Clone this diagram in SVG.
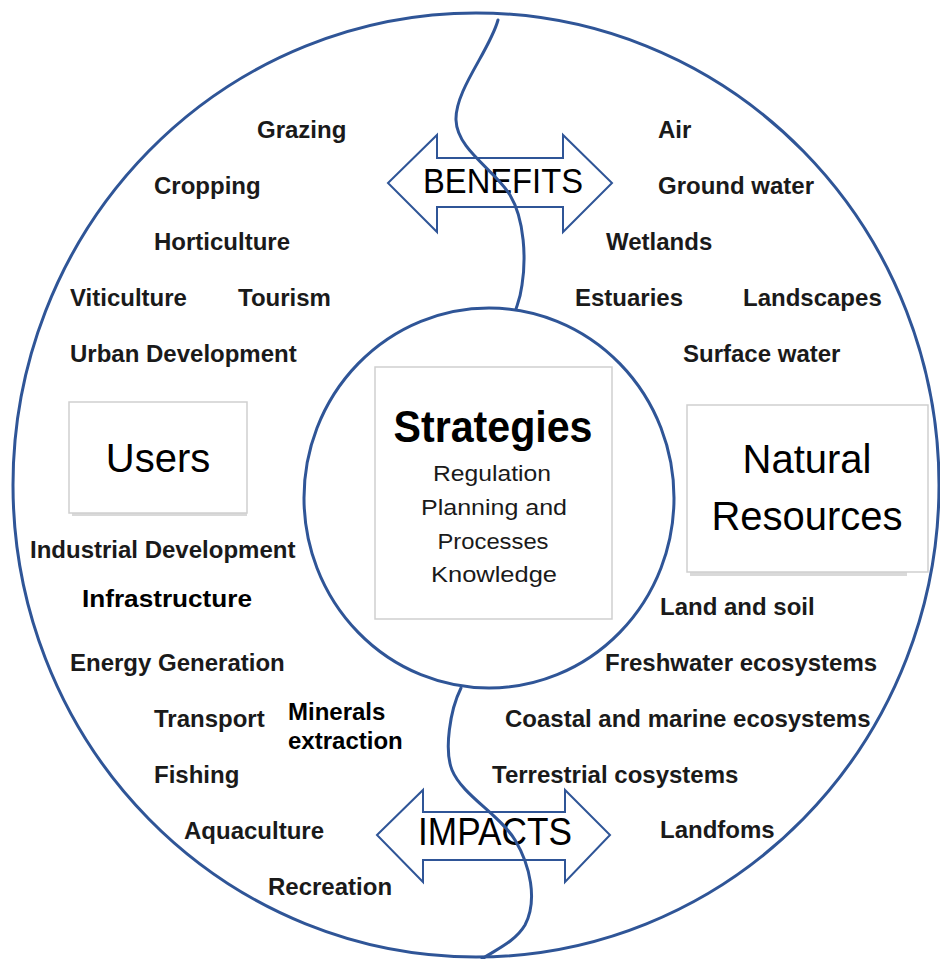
<svg xmlns="http://www.w3.org/2000/svg" width="940" height="959" viewBox="0 0 940 959">
<style>
.ring{fill:none;stroke:#2f5597;stroke-width:3}
.lbl{font-family:"Liberation Sans",Arial,sans-serif;font-size:24px;font-weight:bold;fill:#1a1a1a}
.alb{font-family:"Liberation Sans",Arial,sans-serif;font-size:24px;font-weight:bold;fill:#000}
.box{fill:#fff;stroke:#cfcfcf;stroke-width:1.5}
.shadow{fill:#d9d9d9}
.big{font-family:"Liberation Sans",Arial,sans-serif;font-size:40px;fill:#000;text-anchor:middle}
.sub{font-family:"Liberation Sans",Arial,sans-serif;font-size:22px;fill:#1a1a1a;text-anchor:middle}
.arrow{fill:#fff;stroke:#2f5597;stroke-width:2}
.atext{font-family:"Liberation Sans",Arial,sans-serif;fill:#000;text-anchor:middle}
.wave{fill:none;stroke:#2f5597;stroke-width:3;stroke-linecap:round}
</style>
<rect width="940" height="959" fill="#fff"/>
<ellipse class="ring" cx="476" cy="485" rx="463" ry="472"/>

<g id="labels">
<text class="lbl" x="257" y="138">Grazing</text>
<text class="lbl" x="154" y="194">Cropping</text>
<text class="lbl" x="154" y="250">Horticulture</text>
<text class="lbl" x="70" y="306">Viticulture</text>
<text class="lbl" x="238" y="306">Tourism</text>
<text class="lbl" x="70" y="362">Urban Development</text>
<text class="lbl" x="30" y="558">Industrial Development</text>
<text class="alb" x="82" y="607" textLength="170" lengthAdjust="spacingAndGlyphs">Infrastructure</text>
<text class="lbl" x="70" y="671">Energy Generation</text>
<text class="lbl" x="154" y="727">Transport</text>
<text class="alb" x="288" y="720">Minerals</text>
<text class="alb" x="288" y="749">extraction</text>
<text class="lbl" x="154" y="783">Fishing</text>
<text class="lbl" x="184" y="839">Aquaculture</text>
<text class="lbl" x="268" y="895">Recreation</text>
<text class="lbl" x="658" y="138">Air</text>
<text class="lbl" x="658" y="194">Ground water</text>
<text class="lbl" x="606" y="250">Wetlands</text>
<text class="lbl" x="575" y="306">Estuaries</text>
<text class="lbl" x="743" y="306">Landscapes</text>
<text class="lbl" x="683" y="362">Surface water</text>
<text class="lbl" x="660" y="615">Land and soil</text>
<text class="lbl" x="605" y="671">Freshwater ecosystems</text>
<text class="lbl" x="505" y="727">Coastal and marine ecosystems</text>
<text class="lbl" x="492" y="783">Terrestrial cosystems</text>
<text class="lbl" x="660" y="838">Landfoms</text>
</g>

<g id="users">
<rect class="shadow" x="72" y="512" width="175" height="4"/>
<rect class="box" x="69" y="402" width="178" height="111"/>
<text class="big" x="158" y="472">Users</text>
</g>

<g id="natural-resources">
<rect class="shadow" x="690" y="571" width="217" height="5"/>
<rect class="box" x="687" y="405" width="241" height="167"/>
<text class="big" x="807" y="473">Natural</text>
<text class="big" x="807" y="530">Resources</text>
</g>

<g id="strategies">
<ellipse class="ring" cx="489" cy="498" rx="185" ry="190"/>
<rect class="box" x="375" y="367" width="237" height="252"/>
<text class="big" x="493" y="442" style="font-size:44px;font-weight:bold" textLength="199" lengthAdjust="spacingAndGlyphs">Strategies</text>
<text class="sub" x="492" y="481" textLength="118" lengthAdjust="spacingAndGlyphs">Regulation</text>
<text class="sub" x="494" y="515" textLength="146" lengthAdjust="spacingAndGlyphs">Planning and</text>
<text class="sub" x="493" y="549" textLength="111" lengthAdjust="spacingAndGlyphs">Processes</text>
<text class="sub" x="494" y="582" textLength="126" lengthAdjust="spacingAndGlyphs">Knowledge</text>
</g>

<g id="benefits">
<path class="arrow" d="M388,183 L437,135 L437,158 L563,158 L563,135 L612,183 L563,232 L563,207 L437,207 L437,232 Z"/>
<text class="atext" x="503" y="193" style="font-size:35px" textLength="160" lengthAdjust="spacingAndGlyphs">BENEFITS</text>
</g>

<g id="impacts">
<path class="arrow" d="M377,835 L423,790 L423,812 L565,812 L565,790 L610,835 L565,882 L565,860 L423,860 L423,882 Z"/>
<text class="atext" x="495" y="845" style="font-size:38px" textLength="154" lengthAdjust="spacingAndGlyphs">IMPACTS</text>
</g>

<g id="connectors">
<path class="wave" d="M498,20 C490,50 455,90 456,120 C457,150 495,170 510,195 C525,220 526,260 522,285 C520,300 517,305 516,309"/>
<path class="wave" d="M461,688 C450,710 444,750 452,770 C462,795 500,815 515,840 C530,865 538,900 525,925 C515,942 495,950 482,959"/>
</g>
</svg>
